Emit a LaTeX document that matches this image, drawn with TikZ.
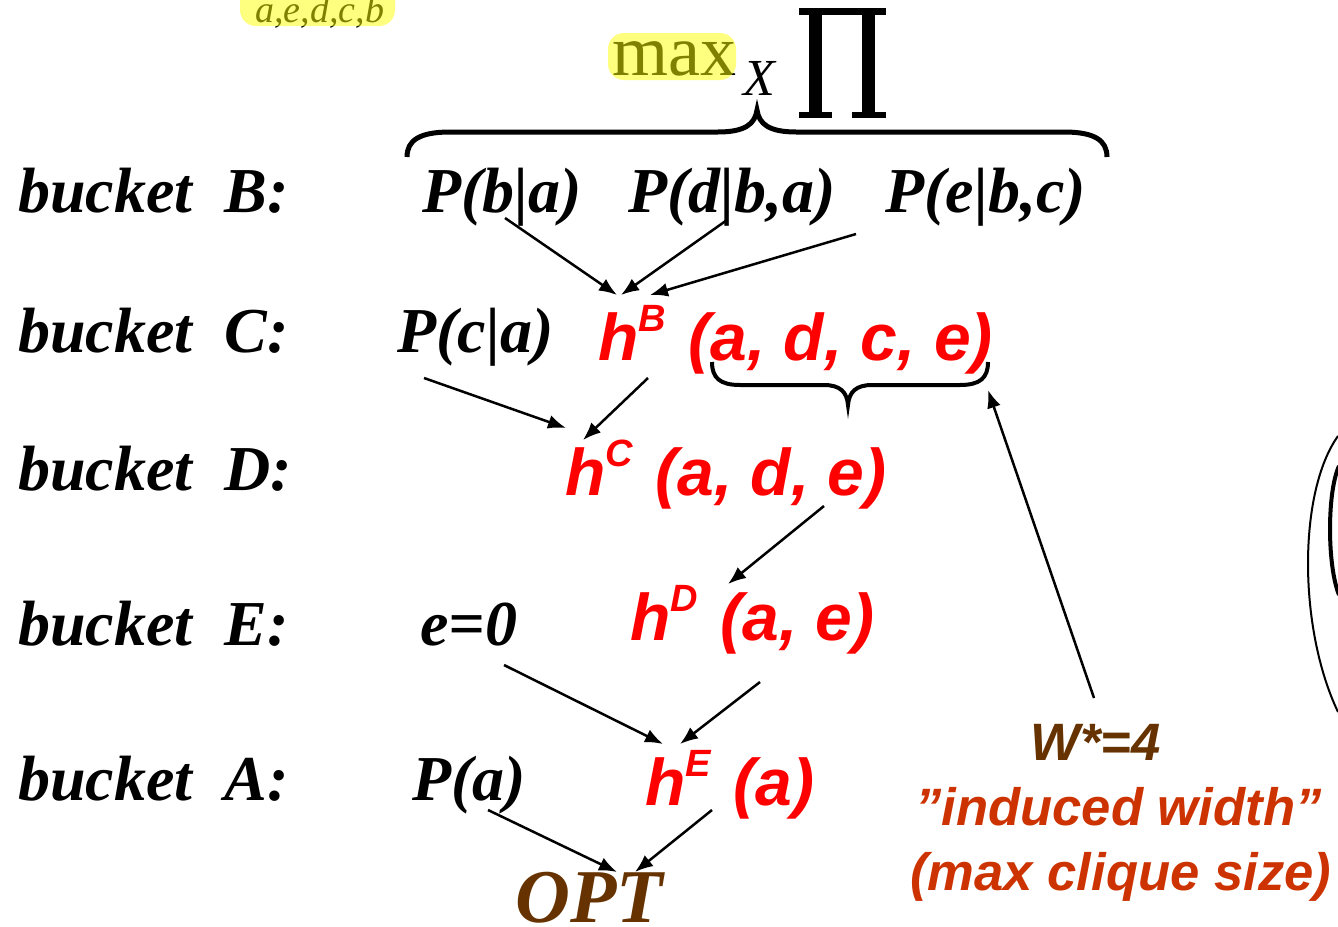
\documentclass[tikz,border=0pt]{standalone}
\usepackage{fontspec}
\setmainfont{Liberation Serif}
\newfontfamily\arialf{Liberation Sans}
\usetikzlibrary{arrows.meta}
\definecolor{hred}{RGB}{255,0,0}
\definecolor{brownc}{RGB}{102,51,0}
\definecolor{orangec}{RGB}{204,51,0}
\definecolor{hlyellow}{RGB}{255,255,0}
\newcommand\hsup[1]{h\raisebox{14.5pt}{\fontsize{19}{19}\selectfont #1}\hspace{2pt}}
\begin{document}
\begin{tikzpicture}[x=0.5pt,y=-0.5pt,
  bk/.style={inner sep=0pt,anchor=base west,font=\fontsize{32}{32}\selectfont\bfseries\itshape},
  rd/.style={inner sep=0pt,anchor=base west,text=hred,font=\arialf\fontsize{33}{33}\selectfont\bfseries\itshape},
  note/.style={inner sep=0pt,anchor=base west,font=\arialf\fontsize{26.3}{26.3}\selectfont\bfseries\itshape},
  arr/.style={line width=1.25pt,-{Latex[length=9pt,width=7pt]}},
  hl/.style={fill=hlyellow,opacity=0.5,rounded corners=8pt,draw=none}]
\useasboundingbox (0,0) rectangle (1338,926);

% top ordering and max
\node[inner sep=0pt,anchor=base west,font=\fontsize{19}{19}\selectfont\itshape] (order) at (255,22) {a,e,d,c,b};
\fill[hl] (240,-20) rectangle (395,26);
\node[inner sep=0pt,anchor=base west,font=\fontsize{36}{36}\selectfont] (max) at (612,75) {max};
\fill[hl] (608,33) rectangle (736,80);
\node[inner sep=0pt,anchor=base west,font=\fontsize{26}{26}\selectfont\itshape] (X) at (743,95) {X};
% product symbol
\fill (799,8) rectangle (886,15);
\fill (809,8) rectangle (822,117);
\fill (862,8) rectangle (875,117);
\fill (799,112) rectangle (832,118);
\fill (852,112) rectangle (886,118);

% top brace
\draw[line width=2.5pt] (407,157) .. controls (407,140) and (420,132) .. (450,132) -- (718,132)
  .. controls (745,132) and (755,124) .. (757,110) .. controls (759,124) and (769,132) .. (796,132)
  -- (1064,132) .. controls (1094,132) and (1107,140) .. (1107,157);

% bucket labels
\node[bk] (bB) at (18,212) {bucket~~B:};
\node[bk] (bC) at (18,352) {bucket~~C:};
\node[bk] (bD) at (18,490) {bucket~~D:};
\node[bk] (bE) at (18,645) {bucket~~E:};
\node[bk] (bA) at (18,800) {bucket~~A:};

% bucket contents
\node[bk] (pba) at (422,212) {P(b|a)};
\node[bk] (pdba) at (628,212) {P(d|b,a)};
\node[bk] (pebc) at (885,212) {P(e|b,c)};
\node[bk] (pca) at (397,352) {P(c|a)};
\node[rd] (hB) at (598,360) {\hsup{B} (a, d, c, e)};
\node[rd] (hC) at (565,495) {\hsup{C} (a, d, e)};
\node[bk] (e0) at (420,645) {e=0};
\node[rd] (hD) at (630,640) {\hsup{D} (a, e)};
\node[bk] (pa) at (412,800) {P(a)};
\node[rd] (hE) at (645,805) {\hsup{E} (a)};
\node[inner sep=0pt,anchor=base west,text=brownc,font=\fontsize{38}{38}\selectfont\bfseries\itshape] (opt) at (515,922) {OPT};

% lower brace
\draw[line width=2pt] (712,362) .. controls (712,378) and (720,385) .. (740,385) -- (824,385)
  .. controls (840,385) and (847,392) .. (848,405) .. controls (849,392) and (856,385) .. (872,385)
  -- (960,385) .. controls (980,385) and (988,378) .. (988,362);

% notes
\node[note,text=brownc] (w) at (1030,760) {W*=4};
\node[note,text=orangec] (iw) at (915,825) {”induced width”};
\node[note,text=orangec] (mcs) at (910,890) {(max clique size)};

% arrow end points
\coordinate (pba-o) at (505,218);
\coordinate (pdba-o) at (727,220);
\coordinate (pebc-o) at (856,234);
\coordinate (hB-i1) at (617,295);
\coordinate (hB-i2) at (621,295);
\coordinate (hB-i3) at (650,295);
\coordinate (pca-o) at (424,378);
\coordinate (hB-o) at (648,378);
\coordinate (hC-i1) at (566,428);
\coordinate (hC-i2) at (583,440);
\coordinate (hC-o) at (824,506);
\coordinate (hD-i) at (728,584);
\coordinate (e0-o) at (504,665);
\coordinate (hD-o) at (760,682);
\coordinate (hE-i1) at (663,744);
\coordinate (hE-i2) at (680,744);
\coordinate (pa-o) at (488,810);
\coordinate (hE-o) at (712,810);
\coordinate (opt-i1) at (617,872);
\coordinate (opt-i2) at (635,872);
\coordinate (w-o) at (1094,698);
\coordinate (brace-i) at (988,390);

\draw[arr] (pba-o) -- (hB-i1);
\draw[arr] (pdba-o) -- (hB-i2);
\draw[arr] (pebc-o) -- (hB-i3);
\draw[arr] (pca-o) -- (hC-i1);
\draw[arr] (hB-o) -- (hC-i2);
\draw[arr] (hC-o) -- (hD-i);
\draw[arr] (e0-o) -- (hE-i1);
\draw[arr] (hD-o) -- (hE-i2);
\draw[arr] (pa-o) -- (opt-i1);
\draw[arr] (hE-o) -- (opt-i2);
\draw[arr] (w-o) -- (brace-i);

% arcs at right edge
\draw[line width=1pt] (1338,436) .. controls (1298,492) and (1298,628) .. (1338,712);
\draw[line width=2pt] (1339,466) .. controls (1327,492) and (1327,565) .. (1339,595);
\end{tikzpicture}
\end{document}
